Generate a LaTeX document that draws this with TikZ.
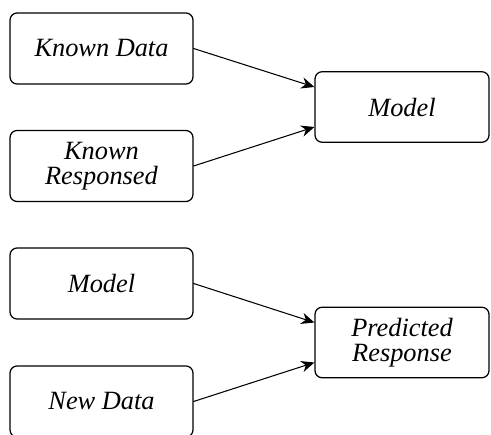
\documentclass[tikz,border=0pt]{standalone}
\usepackage{fontspec}
\setmainfont{Liberation Serif}
\usetikzlibrary{arrows.meta}

\begin{document}
\begin{tikzpicture}[x=0.02cm,y=-0.02cm,line cap=round,line join=round,
    box/.style={draw,line width=0.7pt,rounded corners=4pt,inner sep=0pt,
      align=center,font=\fontsize{15}{14.5}\selectfont\itshape},
    leftbox/.style={box,minimum width=3.66cm,minimum height=1.42cm},
    rightbox/.style={box,minimum width=3.48cm,minimum height=1.41cm},
    feed/.style={line width=0.6pt,-{Stealth[length=7.5pt,width=6.5pt]}}]
  \useasboundingbox (0,0) rectangle (491,435);
  % training
  \node[leftbox] (known) at (101.5,48.5) {Known Data};
  \node[leftbox] (resp) at (101.5,166) {Known\\Responsed};
  \node[rightbox] (model) at (402,107) {Model};
  \draw[feed] (known.east) -- ([yshift=0.4cm]model.west);
  \draw[feed] (resp.east) -- ([yshift=-0.4cm]model.west);
  % prediction
  \node[leftbox] (trained) at (101.5,283.5) {Model};
  \node[leftbox] (newdata) at (101.5,401.5) {New Data};
  \node[rightbox] (pred) at (402,342.5) {Predicted\\Response};
  \draw[feed] (trained.east) -- ([yshift=0.4cm]pred.west);
  \draw[feed] (newdata.east) -- ([yshift=-0.4cm]pred.west);
\end{tikzpicture}
\end{document}
